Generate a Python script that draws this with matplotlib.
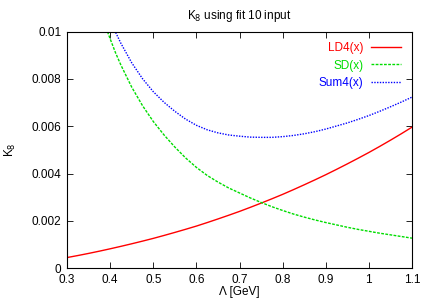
import numpy as np
import matplotlib
matplotlib.use("Agg")
import matplotlib.pyplot as plt

plt.rcParams.update({"font.family": ["Liberation Sans", "DejaVu Sans"]})

# values
lam_ld = [0.30, 0.325, 0.35, 0.375, 0.40, 0.425, 0.45, 0.475, 0.50, 0.525,
          0.55, 0.575, 0.60, 0.625, 0.65, 0.675, 0.70, 0.725, 0.75, 0.775,
          0.80, 0.825, 0.85, 0.875, 0.90, 0.925, 0.95, 0.975, 1.00, 1.025,
          1.05, 1.075, 1.10]
ld4 = [0.000450, 0.000535, 0.000625, 0.000720, 0.000820, 0.000924, 0.001032,
       0.001144, 0.001260, 0.001384, 0.001512, 0.001644, 0.001780, 0.001928,
       0.002081, 0.002238, 0.002400, 0.002572, 0.002749, 0.002932, 0.003120,
       0.003319, 0.003524, 0.003734, 0.003950, 0.004176, 0.004408, 0.004646,
       0.004890, 0.005145, 0.005408, 0.005679, 0.005960]

lam_sd = [0.375, 0.3875, 0.40, 0.4125, 0.425, 0.45, 0.475, 0.50, 0.525, 0.55,
          0.575, 0.60, 0.625, 0.65, 0.675, 0.70, 0.725, 0.75, 0.775, 0.80,
          0.825, 0.85, 0.875, 0.90, 0.925, 0.95, 0.975, 1.00, 1.025, 1.05,
          1.075, 1.10]
sd = [0.01100, 0.01030, 0.00969, 0.00910, 0.00858, 0.00765, 0.00687, 0.00620,
      0.00563, 0.00512, 0.00466, 0.00426, 0.00392, 0.00364, 0.00339, 0.00318,
      0.00297, 0.00278, 0.00260, 0.00244, 0.00229, 0.00216, 0.00204, 0.00193,
      0.00183, 0.00173, 0.00164, 0.00156, 0.00148, 0.00141, 0.00134, 0.00127]
sum4 = [0.01172, 0.01107, 0.01051, 0.00997, 0.00950, 0.00868, 0.00801, 0.00746,
        0.00701, 0.00663, 0.00630, 0.00604, 0.00585, 0.00572, 0.00563, 0.00558,
        0.00554, 0.00553, 0.00553, 0.00556, 0.00561, 0.00568, 0.00577, 0.00588,
        0.00601, 0.00614, 0.00629, 0.00645, 0.00663, 0.00682, 0.00702, 0.00723]

xticks = [0.3, 0.4, 0.5, 0.6, 0.7, 0.8, 0.9, 1.0, 1.1]
xticklabels = ["0.3", "0.4", "0.5", "0.6", "0.7", "0.8", "0.9", "1", "1.1"]
yticks = [0, 0.002, 0.004, 0.006, 0.008, 0.01]
yticklabels = ["0", "0.002", "0.004", "0.006", "0.008", "0.01"]

fig = plt.figure(figsize=(4.30, 3.01), dpi=100)
ax = fig.add_axes([0.156, 0.109, 0.802, 0.786])

ax.plot(lam_ld, ld4, color="#ff0000", lw=1.0, label="LD4(x)")
ax.plot(lam_sd, sd, color="#00dd00", lw=1.0, ls=(0, (2, 1)), label="SD(x)")
ax.plot(lam_sd, sum4, color="#0000ff", lw=1.0, ls=(0, (1, 1)), label="Sum4(x)")

ax.set_xlim(0.3, 1.1)
ax.set_ylim(0, 0.01)
ax.set_xticks(xticks)
ax.set_xticklabels(xticklabels, fontsize=8.5)
ax.set_yticks(yticks)
ax.set_yticklabels(yticklabels, fontsize=8.5)
ax.tick_params(direction="in", top=True, right=True, length=4, width=0.6)
ax.tick_params(axis="x", pad=4.5)
ax.tick_params(axis="y", pad=4)
for s in ax.spines.values():
    s.set_linewidth(0.8)

ax.set_title("K$_8$ using fit 10 input", fontsize=8.5, pad=9)
ax.set_xlabel("Λ [GeV]", fontsize=8.5, labelpad=0)
ax.set_ylabel("K$_8$", fontsize=8.5, labelpad=10)

ax.legend(loc="upper right", frameon=False, markerfirst=False, fontsize=8.5,
          labelcolor="linecolor", handlelength=2.6, handletextpad=0.6,
          labelspacing=0.45, borderaxespad=0.5)

fig.savefig("out.png", dpi=100)
